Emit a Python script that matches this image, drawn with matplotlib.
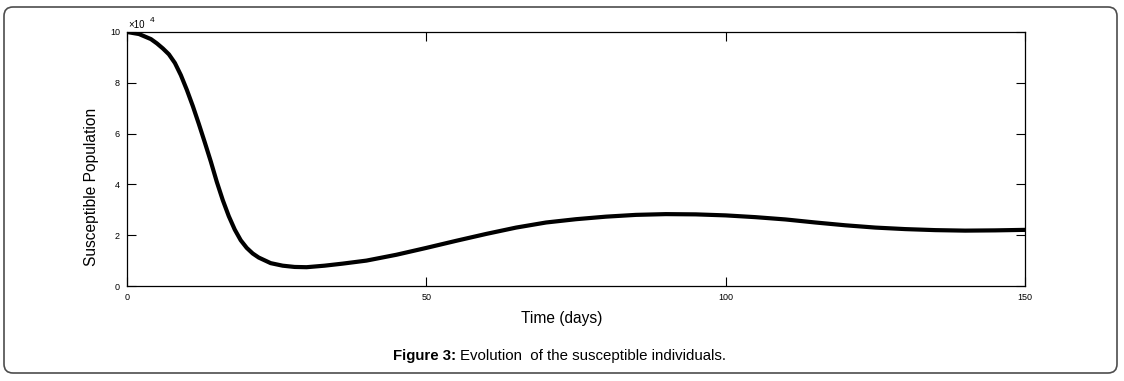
import matplotlib.pyplot as plt
from matplotlib.patches import FancyBboxPatch

plt.rcParams['font.family'] = ['Liberation Sans', 'DejaVu Sans']

# susceptible population (units of 10^4)
days = [0, 2, 4, 5, 6, 7, 8, 9, 10, 11, 12, 13, 14, 15, 16, 17, 18, 19, 20,
        21, 22, 24, 26, 28, 30, 33, 36, 40, 45, 50, 55, 60, 65, 70, 75, 80,
        85, 90, 95, 100, 105, 110, 115, 120, 125, 130, 135, 140, 145, 150]
susceptible = [10.0, 9.92, 9.72, 9.55, 9.35, 9.12, 8.78, 8.30, 7.72, 7.08,
               6.38, 5.65, 4.90, 4.10, 3.38, 2.75, 2.22, 1.80, 1.50, 1.28,
               1.12, 0.90, 0.80, 0.75, 0.74, 0.80, 0.88, 1.00, 1.23, 1.50,
               1.78, 2.05, 2.30, 2.50, 2.63, 2.73, 2.80, 2.83, 2.82, 2.78,
               2.71, 2.62, 2.50, 2.39, 2.30, 2.24, 2.20, 2.18, 2.19, 2.21]

x_ticks = [0, 50, 100, 150]
y_ticks = [0, 2, 4, 6, 8, 10]

fig = plt.figure(figsize=(11.24, 3.81), dpi=100)

# rounded frame around the whole figure
frame = FancyBboxPatch((4 / 1124, 1 - 373 / 381), (1117 - 4) / 1124, (373 - 7) / 381,
                       boxstyle="round,pad=0,rounding_size=0.008",
                       transform=fig.transFigure, facecolor='none',
                       edgecolor='#4d4d4d', linewidth=1.2, mutation_aspect=2.95)
fig.patches.append(frame)

ax = fig.add_axes([127 / 1124, 1 - 286 / 381, (1025 - 127) / 1124, (286 - 32) / 381])
ax.plot(days, susceptible, color='black', linewidth=3.0, solid_capstyle='round')

ax.set_xlim(0, 150)
ax.set_ylim(0, 10)
ax.set_xticks(x_ticks)
ax.set_yticks(y_ticks)
ax.tick_params(direction='in', length=6.5, width=0.8, top=True, right=True,
               labelsize=6.5, pad=5)
for s in ax.spines.values():
    s.set_linewidth(0.9)

# exponent marker like matlab
ax.text(0.002, 1.017, '\u00d710', transform=ax.transAxes, fontsize=7, va='baseline', ha='left')
ax.text(0.025, 1.03, '4', transform=ax.transAxes, fontsize=6, va='bottom', ha='left')

ax.set_xlabel('Time (days)', fontsize=11.2)
ax.xaxis.set_label_coords((562 - 127) / 898, (286 - 311) / 254)
ax.set_ylabel('Susceptible Population', fontsize=11.2)
ax.yaxis.set_label_coords((99 - 127) / 898, (286 - 187) / 254)

fig.text(393 / 1124, 1 - 356 / 381, 'Figure 3:', fontsize=10.8, fontweight='bold',
         va='center', ha='left')
fig.text(460 / 1124, 1 - 356 / 381, 'Evolution  of the susceptible individuals.',
         fontsize=10.8, va='center', ha='left')

fig.savefig('out.png', dpi=100)
